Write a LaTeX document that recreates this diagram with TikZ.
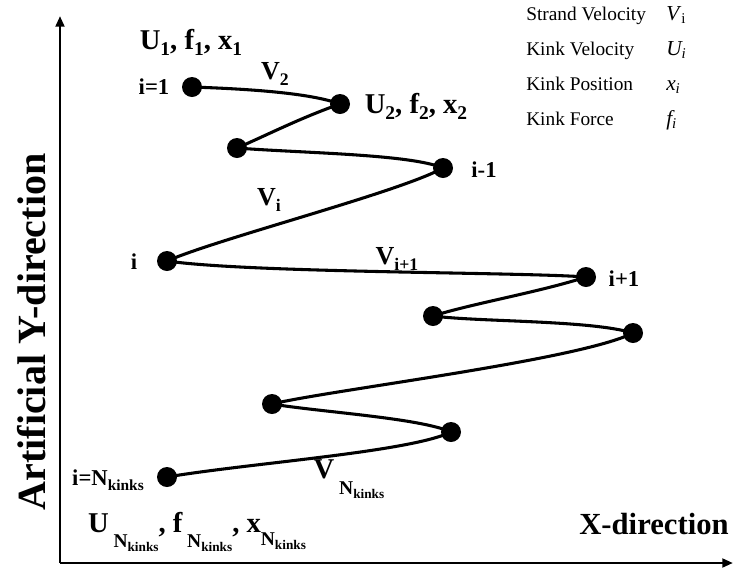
\documentclass[tikz,border=0pt]{standalone}
\usepackage{fontspec}
\setmainfont{Liberation Serif}
\usetikzlibrary{arrows.meta}
\newcommand{\dn}[2][0.45ex]{\raisebox{-#1}{\scalebox{0.68}{#2}}}
\tikzset{
  kink/.style={circle, fill=black, inner sep=0pt, minimum size=15pt},
  seg/.style={line width=2.3pt},
  lbl/.style={font=\bfseries\fontsize{21.5}{24}\selectfont, inner sep=0pt},
  vlbl/.style={font=\bfseries\fontsize{19.5}{22}\selectfont, inner sep=0pt},
  idx/.style={font=\bfseries\fontsize{17}{20}\selectfont, inner sep=0pt},
  leg/.style={font=\fontsize{14.5}{17}\selectfont, inner sep=0pt, anchor=base west},
  sym/.style={font=\fontsize{16}{19}\selectfont, inner sep=0pt, anchor=base west},
  axis/.style={line width=2.2pt, -{Triangle[length=8pt,width=6.5pt]}},
  axlbl/.style={font=\bfseries\fontsize{23}{26}\selectfont, inner sep=0pt},
  aylbl/.style={font=\bfseries\fontsize{30}{34}\selectfont, inner sep=0pt, rotate=90}
}
\begin{document}
\begin{tikzpicture}[x=0.75pt,y=-0.75pt]
\path[use as bounding box] (0,0) rectangle (733,569);
% axes
\coordinate (O) at (60,563);
\coordinate (Ytop) at (60,16);
\coordinate (Xend) at (733,563);
\draw[axis] (O) -- (Ytop);
\draw[axis] (O) -- (Xend);
\node[aylbl] (ylab) at (32,332) {Artificial Y-direction};
\node[axlbl] (xlab) at (654,524) {X-direction};
% kinks
\node[kink] (k1) at (192,87) {};
\node[kink] (k2) at (340,104) {};
\node[kink] (k3) at (237,148) {};
\node[kink] (k4) at (443,168) {};
\node[kink] (k5) at (167,261) {};
\node[kink] (k6) at (586,277) {};
\node[kink] (k7) at (433,316) {};
\node[kink] (k8) at (633,333) {};
\node[kink] (k9) at (272,404) {};
\node[kink] (k10) at (451,432) {};
\node[kink] (k11) at (167,477) {};
% strand
\draw[seg] (k1.center) .. controls (250,89) and (310,93) .. (k2.center);
\draw[seg] (k2.center) .. controls (300,118) and (265,136) .. (k3.center);
\draw[seg] (k3.center) .. controls (300,153) and (410,154) .. (k4.center);
\draw[seg] (k4.center) .. controls (400,192) and (220,238) .. (k5.center);
\draw[seg] (k5.center) .. controls (250,273) and (520,272) .. (k6.center);
\draw[seg] (k6.center) .. controls (540,292) and (470,304) .. (k7.center);
\draw[seg] (k7.center) .. controls (480,322) and (590,320) .. (k8.center);
\draw[seg] (k8.center) .. controls (580,360) and (330,390) .. (k9.center);
\draw[seg] (k9.center) .. controls (320,412) and (420,418) .. (k10.center);
\draw[seg] (k10.center) .. controls (410,452) and (250,463) .. (k11.center);
% labels
\node[lbl] (u1) at (191,42) {U\dn{1}, f\dn{1}, x\dn{1}};
\node[idx] (i1) at (154,87) {i=1};
\node[vlbl] (v2) at (275,74) {V\dn{2}};
\node[lbl] (u2) at (416,106) {U\dn{2}, f\dn{2}, x\dn{2}};
\node[idx] (im1) at (484,170) {i-1};
\node[vlbl] (vi) at (269,200) {V\dn{i}};
\node[idx] (ii) at (134,262) {i};
\node[vlbl] (vip1) at (397,259) {V\dn{i+1}};
\node[idx] (ip1) at (624,279) {i+1};
\node[idx] (iN) at (108,480) {i=N\dn{kinks}};
\node[lbl] (vN) at (349,479) {V\,\dn[1.2ex]{N\dn{kinks}}};
\node[lbl] (uN) at (197,532) {U\,\dn[1.2ex]{N\dn{kinks}}, f\,\dn[1.2ex]{N\dn{kinks}}, x\dn[1.0ex]{N\dn{kinks}}};
% legend
\node[leg] (l1) at (526,20) {Strand Velocity};
\node[leg] (l2) at (526,55) {Kink Velocity};
\node[leg] (l3) at (526,90) {Kink Position};
\node[leg] (l4) at (526,125) {Kink Force};
\node[sym] (s1) at (666,20) {\textit{V}\textsubscript{i}};
\node[sym] (s2) at (666,55) {\textit{U\textsubscript{i}}};
\node[sym] (s3) at (666,90) {\textit{x\textsubscript{i}}};
\node[sym] (s4) at (666,125) {\textit{f\textsubscript{i}}};
\end{tikzpicture}
\end{document}
